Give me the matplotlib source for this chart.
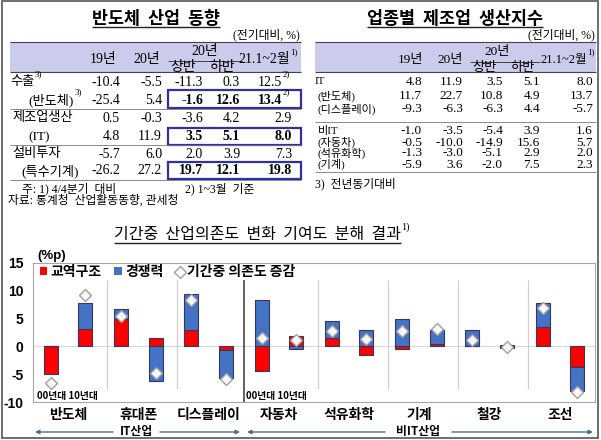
import matplotlib
matplotlib.use('Agg')
import matplotlib.pyplot as plt
from matplotlib.patches import Rectangle, Patch
from matplotlib.lines import Line2D
import numpy as np

plt.rcParams['font.family'] = ['Noto Sans CJK KR', 'DejaVu Sans']
plt.rcParams['axes.unicode_minus'] = False
SERIF = ['Liberation Serif', 'Noto Sans CJK KR', 'DejaVu Sans']
SANS = ['Liberation Sans', 'Noto Sans CJK KR', 'DejaVu Sans']
KR = ['Noto Sans CJK KR', 'DejaVu Sans']

# left table : semiconductor industry trend
lt_rows = ['수출', '(반도체)', '제조업생산', '(IT)', '설비투자', '(특수기계)']
lt_y19 = [-10.4, -25.4, 0.5, 4.8, -5.7, -26.2]
lt_y20 = [-5.5, 5.4, -0.3, 11.9, 6.0, 27.2]
lt_h1 = [-11.3, -1.6, -3.6, 3.5, 2.0, 19.7]
lt_h2 = [0.3, 12.6, 4.2, 5.1, 3.9, 12.1]
lt_21 = [12.5, 13.4, 2.9, 8.0, 7.3, 19.8]

# right table : production index by industry
rt_rows = ['IT', '(반도체)', '(디스플레이)', '비IT', '(자동차)', '(석유화학)', '(기계)']
rt_y19 = [4.8, 11.7, -9.3, -1.0, -0.5, -1.3, -5.9]
rt_y20 = [11.9, 22.7, -6.3, -3.5, -10.0, -3.0, 3.6]
rt_h1 = [3.5, 10.8, -6.3, -5.4, -14.9, -5.1, -2.0]
rt_h2 = [5.1, 4.9, 4.4, 3.9, 15.6, 2.9, 7.5]
rt_21 = [8.0, 13.7, -5.7, 1.6, 5.7, 2.0, 2.3]

# chart : decomposition of change in dependence (00s, 10s)
cats = ['반도체', '휴대폰', '디스플레이', '자동차', '석유화학', '기계', '철강', '조선']
red_00 = [-5.0, 5.0, 3.0, -4.4, 1.6, -0.4, 0.1, 3.5]
red_10 = [3.1, 1.5, -0.7, 1.8, -1.5, 0.4, 0.2, -3.7]
blue_00 = [0.0, 1.7, 6.4, 8.3, 2.9, 4.9, 2.8, 4.3]
blue_10 = [4.7, -6.2, -4.9, -0.5, 3.0, 2.6, -0.3, -4.3]
diff_00 = [-6.5, 5.4, 8.4, 1.5, 2.7, 2.8, 1.1, 6.9]
diff_10 = [9.2, -4.8, -5.8, 1.1, 1.3, 3.2, -0.1, -8.2]

RED = '#FF0000'
BLUE = '#4472C4'
EDGE = '#33395A'
BAND = '#CBCBEB'
BOX = '#3030A0'

fig = plt.figure(figsize=(6.01, 4.40), dpi=100)
bg = fig.add_axes([0, 0, 1, 1])
bg.set_xlim(0, 601)
bg.set_ylim(440, 0)
bg.axis('off')


def txt(x, y, s, size=9.5, ha='left', bold=False, fam=SERIF):
    return bg.text(x, y, s, fontsize=size, ha=ha, va='center', family=fam,
                   fontweight='bold' if bold else 'normal')


def sup(t, s, size=6.5, dy=3):
    return bg.annotate(s, xy=(1, 0.5), xycoords=t, xytext=(0.5, dy),
                       textcoords='offset points', fontsize=size, ha='left',
                       va='bottom', family=SERIF)


def hline(x0, x1, y, lw=0.8, c='#444444'):
    bg.plot([x0, x1], [y, y], color=c, lw=lw, solid_capstyle='butt')


# ---- left table
t_left = txt(156, 19, '반도체  산업  동향', size=12.5, ha='center', bold=True, fam=KR)
txt(300, 35, '(전기대비, %)', size=8.5, ha='right')
bg.add_patch(Rectangle((10, 42), 291, 30, fc=BAND, ec='none'))
hline(10, 301, 42)
hline(10, 301, 72)
txt(103, 60, '19년', ha='center', size=10)
txt(147, 60, '20년', ha='center', size=10)
txt(205, 51, '20년', ha='center', size=10)
hline(168, 242, 61, lw=0.7)
txt(183, 68, '상반', ha='center', size=10)
txt(222, 68, '하반', ha='center', size=10)
t = txt(290, 60, '21.1~2월', ha='right', size=10)
sup(t, '1)')

lt_ly = [82, 100, 118, 137, 154, 171]
lt_lx = [10, 28, 12, 28, 12, 21]
lt_cols = [120, 162, 203, 240, 292]
for r in range(len(lt_rows)):
    t = txt(lt_lx[r], lt_ly[r], lt_rows[r])
    if r < 2:
        sup(t, '3)')
    vals = [lt_y19[r], lt_y20[r], lt_h1[r], lt_h2[r], lt_21[r]]
    for c, v in enumerate(vals):
        bold = r in (1, 3, 5) and c >= 2
        right = lt_cols[c]
        if c == 4 and r < 2:
            right -= 10
        t = txt(right, lt_ly[r], '{:.1f}'.format(v), ha='right', bold=bold, size=10)
        if c == 4 and r < 2:
            sup(t, '2)')
for y in [109, 145, 180]:
    hline(10, 301, y, lw=0.6, c='#777777')
for y0, y1 in [(90, 108), (128, 145), (162, 179)]:
    bg.add_patch(Rectangle((168, y0), 133, y1 - y0, fill=False, ec=BOX, lw=1.6))
txt(22, 189, '주: 1) 4/4분기  대비', size=8.5)
txt(185, 189, '2) 1~3월  기준', size=8.5)
txt(8, 201, '자료: 통계청  산업활동동향, 관세청', size=8.5)

# ---- right table
t_right = txt(455, 19, '업종별  제조업  생산지수', size=12.5, ha='center', bold=True, fam=KR)
txt(595, 35, '(전기대비, %)', size=8.5, ha='right')
bg.add_patch(Rectangle((315, 42), 281, 30, fc=BAND, ec='none'))
hline(315, 596, 42)
hline(315, 596, 72)
txt(410, 60, '19년', ha='center')
txt(450, 60, '20년', ha='center')
txt(497, 52, '20년', ha='center')
hline(470, 540, 62, lw=0.7)
txt(485, 68, '상반', ha='center')
txt(523, 68, '하반', ha='center')
t = txt(587, 60, '21.1~2월', ha='right', size=9)
sup(t, '1)')

rt_ly = [82, 96, 109, 131, 142.5, 153.5, 164.5]
rt_lx = [315, 317, 317, 318, 318, 318, 318]
rt_cols = [422, 463, 503, 540, 593]
for r in range(len(rt_rows)):
    txt(rt_lx[r], rt_ly[r], rt_rows[r], size=8)
    vals = [rt_y19[r], rt_y20[r], rt_h1[r], rt_h2[r], rt_21[r]]
    for c, v in enumerate(vals):
        txt(rt_cols[c], rt_ly[r], '{:.1f}'.format(v), ha='right', size=9.5)
hline(315, 596, 122, lw=0.6, c='#777777')
hline(315, 596, 172, lw=0.6, c='#777777')
txt(315, 184, '3)  전년동기대비', size=8.5)

# ---- chart
t_chart = txt(257, 235, '기간중  산업의존도  변화  기여도  분해  결과', size=11.5, ha='center', fam=KR)
sup(t_chart, '1)', size=7.5, dy=2)

ax = fig.add_axes([33 / 601, 38 / 440, 562 / 601, 139 / 440])
x = np.arange(len(cats))
w = 0.2
for pos, red, blue, diff in [(x - 0.245, red_00, blue_00, diff_00),
                             (x + 0.245, red_10, blue_10, diff_10)]:
    red = np.array(red)
    blue = np.array(blue)
    bottom = np.where(np.sign(blue) == np.sign(red), red, 0)
    ax.bar(pos, red, w, color=RED, edgecolor=EDGE, lw=0.8, zorder=3)
    ax.bar(pos, blue, w, bottom=bottom, color=BLUE, edgecolor=EDGE, lw=0.8, zorder=3)
    ax.plot(pos, diff, 'D', ls='none', ms=6.5, mfc='#F7F7F7', mec='#A0A0A0', mew=1, zorder=4)

ax.set_xlim(-0.5, 7.5)
ax.set_ylim(-10, 15)
ax.axhline(0, color='#D9D9D9', lw=0.8, zorder=1)
ax.vlines([0.55, 1.55, 3.55, 4.55, 5.55, 6.55], -7.6, 11.9, color='#D0D0D0', lw=0.9, zorder=1)
ax.vlines([2.5], -10, 11.9, color='#555555', lw=1.3, zorder=1)
for s in ax.spines.values():
    s.set_color('#A6A6A6')

ax.set_yticks([-10, -5, 0, 5, 10, 15])
ax.tick_params(axis='y', length=0, pad=7, labelsize=10)
ax.set_xticks(x, cats)
ax.tick_params(axis='x', length=0, pad=4, labelsize=10)
for lbl in ax.get_yticklabels():
    lbl.set_fontweight('bold')
    lbl.set_family(SANS)
for lbl in ax.get_xticklabels():
    lbl.set_fontweight('bold')

ax.text(-0.45, -9.0, '00년대 10년대', fontsize=7, fontweight='bold', va='center')
ax.text(2.53, -9.0, '00년대 10년대', fontsize=7, fontweight='bold', va='center')

handles = [Patch(fc=RED, ec='none'), Patch(fc=BLUE, ec='none'),
           Line2D([], [], marker='D', ls='none', ms=6, mfc='white', mec='#A0A0A0')]
ax.legend(handles, ['교역구조', '경쟁력', '기간중 의존도 증감'], loc='upper left',
          bbox_to_anchor=(0.012, 0.985), ncol=3, frameon=False,
          prop={'family': KR, 'weight': 'bold', 'size': 10},
          handlelength=0.55, handleheight=0.55, handletextpad=0.25,
          columnspacing=0.9, borderaxespad=0, borderpad=0)

bg.text(37, 256, '(%p)', fontsize=9.5, fontweight='bold', family=SANS, va='center')

# industry group arrows
ARW = '#4A6A9A'
bg.annotate('', xy=(35, 432), xytext=(113, 432),
            arrowprops=dict(arrowstyle='-|>', color=ARW, lw=1, mutation_scale=6, shrinkA=0, shrinkB=0))
bg.annotate('', xy=(240, 432), xytext=(160, 432),
            arrowprops=dict(arrowstyle='-|>', color=ARW, lw=1, mutation_scale=6, shrinkA=0, shrinkB=0))
bg.text(136, 432, 'IT산업', fontsize=8.5, fontweight='bold', ha='center', va='center')
bg.annotate('', xy=(247, 432), xytext=(385, 432),
            arrowprops=dict(arrowstyle='-|>', color=ARW, lw=1, mutation_scale=6, shrinkA=0, shrinkB=0))
bg.annotate('', xy=(593, 432), xytext=(452, 432),
            arrowprops=dict(arrowstyle='-|>', color=ARW, lw=1, mutation_scale=6, shrinkA=0, shrinkB=0))
bg.text(418, 432, '비IT산업', fontsize=8.5, fontweight='bold', ha='center', va='center')

# outer frame
bg.add_patch(Rectangle((2, 1), 596, 437, fill=False, ec='#555555', lw=1.2))

# underline the titles
fig.canvas.draw()
inv = bg.transData.inverted()
for t, y in [(t_left, 27), (t_right, 27), (t_chart, 243)]:
    bb = t.get_window_extent()
    (x0, _), (x1, _) = inv.transform([(bb.x0, bb.y0), (bb.x1, bb.y1)])
    hline(x0, x1, y, lw=1, c='#222222')

fig.savefig('out.png', dpi=100)
